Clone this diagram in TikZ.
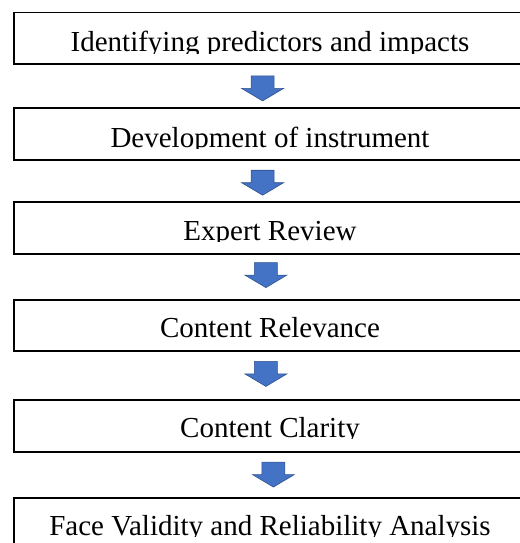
\documentclass[tikz,border=0pt]{standalone}
\usepackage{fontspec}
\setmainfont{Liberation Serif}
\usetikzlibrary{calc}
\definecolor{arrowblue}{HTML}{4472C4}
\definecolor{arrowedge}{HTML}{2F528F}
% one stage: framed box, with its caption clipped just under the baseline
\newcommand\stagerow[5]{%
  \node[stagebox, minimum height=#3, anchor=north west] (#1) at (13,#2) {};
  \begin{scope}
    \clip (0,#2) rectangle (540,#4+1.2);
    \node[stagetext] (#1t) at (270,#4) {#5};
  \end{scope}}
\begin{document}
\begin{tikzpicture}[x=1pt,y=-1pt,
  stagebox/.style={draw=black, line width=1.8pt, minimum width=514pt, inner sep=0pt},
  stagetext/.style={anchor=base, inner sep=0pt, font=\fontsize{29}{33}\selectfont},
  downarrow/.style={fill=arrowblue, draw=arrowedge, line width=0.6pt, line join=miter},
  blockarrow/.pic={\path[downarrow] (-11.5,-12.5) -- (11.5,-12.5) -- (11.5,0)
      -- (21,0) -- (0,12.5) -- (-21,0) -- (-11.5,0) -- cycle;}
]
\useasboundingbox (0,0) rectangle (519,543);
\fill[white] (0,0) rectangle (519,543);

\stagerow{s1}{11.7}{51.6pt}{52}{Identifying predictors and impacts}
\stagerow{s2}{106.7}{52.6pt}{147}{Development of instrument}
\stagerow{s3}{200.7}{52.6pt}{240}{Expert Review}
\stagerow{s4}{299.3}{50.7pt}{337}{Content Relevance}
\stagerow{s5}{399}{52pt}{437}{Content Clarity}
\stagerow{s6}{496.7}{60pt}{535}{Face Validity and Reliability Analysis}

% block arrows between consecutive stages
\pic at ($(s1.south)!0.5!(s2.north)+(-8.3,2.5)$) {blockarrow};
\pic at ($(s2.south)!0.5!(s3.north)+(-8.3,1.8)$) {blockarrow};
\pic at ($(s3.south)!0.5!(s4.north)+(-5,-2.1)$) {blockarrow};
\pic at ($(s4.south)!0.5!(s5.north)+(-5,-1.5)$) {blockarrow};
\pic at ($(s5.south)!0.5!(s6.north)+(2.5,-0.2)$) {blockarrow};
\end{tikzpicture}
\end{document}
